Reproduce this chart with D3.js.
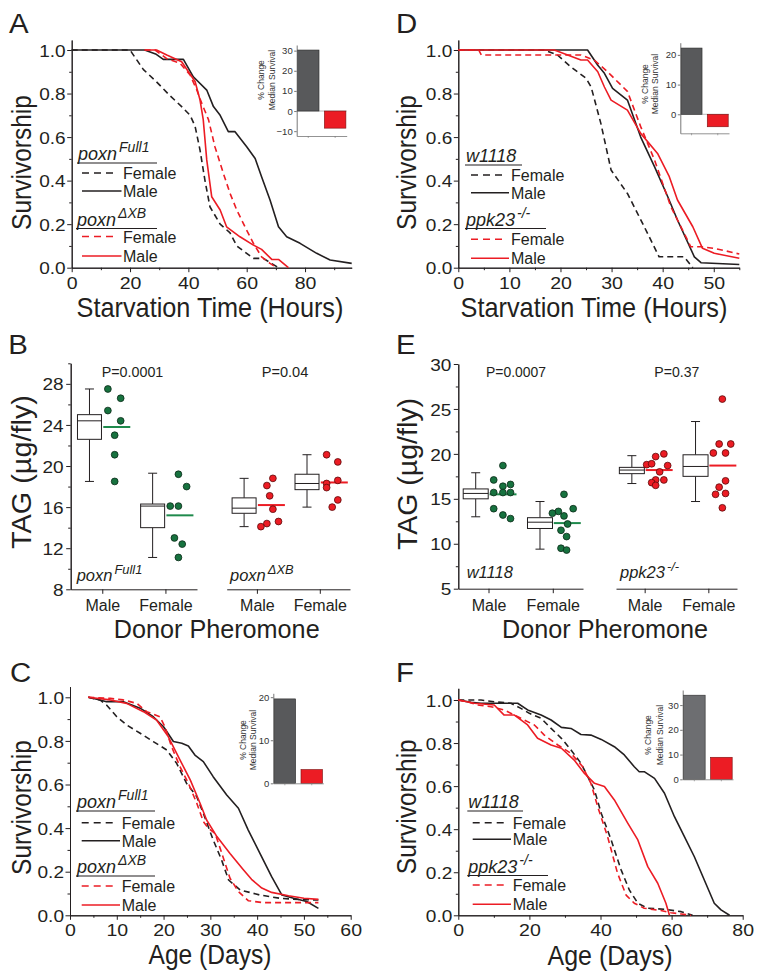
<!DOCTYPE html>
<html><head><meta charset="utf-8">
<script src="https://cdn.jsdelivr.net/npm/d3@7"></script>
<style>body{margin:0;background:#fff}svg{display:block}</style>
</head><body>
<svg id="c" width="762" height="976"></svg>
<script>
// ---------------- DATA ----------------
// Panel A: starvation survival (hours, fraction alive)
const aFull1Female = [[0,1],[20,1],[21,0.98],[24.6,0.91],[29,0.855],[33.7,0.79],[37.7,0.74],[40.6,0.70],[42.3,0.65],[44,0.54],[45.7,0.40],[47.4,0.28],[50.9,0.20],[54.3,0.16],[56.6,0.10],[62.3,0.043],[65.7,0.043],[70.3,0.005],[70.5,0]];
const aFull1Male = [[0,1],[25,1],[29,0.98],[31.4,0.957],[38.3,0.957],[41.7,0.877],[46.3,0.816],[48.6,0.74],[50.9,0.70],[53.7,0.625],[56,0.625],[60,0.556],[62.9,0.502],[65.1,0.418],[68,0.311],[70.9,0.188],[73.7,0.142],[78.3,0.112],[84,0.066],[88.6,0.035],[96,0.02]];
const aXBFemale = [[25,1],[28.6,1],[32.6,0.96],[37.1,0.94],[40.6,0.885],[42.9,0.816],[44.6,0.755],[46.9,0.68],[49.1,0.556],[52,0.433],[54.3,0.341],[56.6,0.265],[59.4,0.188],[62.3,0.112],[65.1,0.05],[68,0.02],[70.3,0]];
const aXBMale = [[25,1],[29.1,1],[32.6,0.977],[37.7,0.946],[42.3,0.855],[44,0.77],[45.1,0.68],[46.3,0.495],[48,0.326],[50.9,0.265],[53.1,0.188],[57.7,0.142],[62.3,0.104],[65.1,0.084],[68.6,0.038],[70.9,0.038],[74.3,0]];
// Panel D
const dW1118Female = [[0,1],[16.8,1],[19.4,0.977],[22,0.923],[25,0.87],[26,0.83],[27.9,0.663],[29.9,0.449],[33.1,0.341],[36.4,0.188],[39.3,0.05],[44.2,0.05],[45.9,0]];
const dW1118Male = [[0,1],[25.3,1],[27.3,0.93],[28.6,0.893],[30.2,0.824],[33.1,0.77],[35.7,0.60],[38.4,0.464],[41,0.326],[42.9,0.219],[46.2,0.05],[47.5,0.023],[55,0.015]];
const dPpkFemale = [[0,1],[4,1],[4.5,0.977],[24,0.977],[26.6,0.954],[29.2,0.9],[33.1,0.81],[35.7,0.648],[38.4,0.495],[41.6,0.28],[43.9,0.173],[45.5,0.096],[47.5,0.096],[50.1,0.089],[55,0.063]];
const dPpkMale = [[0,1],[18.8,1],[21.4,0.977],[24,0.954],[25.3,0.954],[27.3,0.9],[28.6,0.83],[29.9,0.77],[33.1,0.724],[35.7,0.617],[39,0.525],[41.3,0.418],[42.9,0.311],[45.9,0.188],[47.8,0.089],[50.1,0.066],[55,0.043]];
// Panel C: lifespan (days)
const cFull1Female = [[3.9,1],[6.4,0.988],[7.8,0.965],[10,0.911],[12.1,0.873],[15,0.835],[17.8,0.797],[20.7,0.758],[22.8,0.697],[24.9,0.606],[27.1,0.544],[28.5,0.468],[30.6,0.346],[32.4,0.254],[33.9,0.162],[36.4,0.116],[40.6,0.093],[44.9,0.078],[49.2,0.072],[53.1,0.07]];
const cFull1Male = [[3.9,1],[6.4,0.988],[7.8,0.98],[11.4,0.98],[15,0.95],[17.8,0.911],[20,0.865],[22.1,0.797],[23.9,0.789],[25.3,0.777],[26.7,0.735],[28.5,0.705],[30.6,0.636],[33.5,0.552],[36,0.491],[38.1,0.391],[40.6,0.284],[43.1,0.177],[45.3,0.093],[47.8,0.078],[50.6,0.063],[53.1,0.032]];
const cXBFemale = [[3.9,1],[8.6,0.995],[11.4,0.988],[14.3,0.972],[16.4,0.934],[19.2,0.911],[20.3,0.865],[21.7,0.774],[23.5,0.682],[25.3,0.606],[27.1,0.514],[28.5,0.43],[29.6,0.399],[31,0.376],[32.1,0.307],[34.2,0.17],[36,0.109],[38.1,0.067],[41.3,0.058],[53.1,0.058]];
const cXBMale = [[3.9,1],[8.6,0.988],[12.1,0.972],[15.7,0.934],[18.5,0.896],[21,0.82],[23.5,0.713],[25.7,0.621],[27.8,0.514],[29.2,0.437],[31.4,0.361],[34.2,0.284],[37.1,0.208],[38.8,0.165],[41,0.125],[43.1,0.105],[46.7,0.09],[50,0.078],[53.1,0.073]];
// Panel F
const fW1118Female = [[0,1],[6.4,1],[10.1,0.992],[14.8,0.985],[17.6,0.961],[20,0.938],[23.3,0.915],[26.1,0.868],[29,0.822],[31.7,0.768],[34.5,0.706],[36.4,0.644],[38.3,0.582],[40.2,0.474],[43,0.35],[45.8,0.211],[48.1,0.118],[50.5,0.056],[53.3,0.033],[58,0.028],[62.7,0.017],[65.9,0]];
const fW1118Male = [[0,1],[3.6,0.989],[6.4,0.985],[16.7,0.985],[19.5,0.954],[23.3,0.93],[26.1,0.907],[29,0.873],[31.7,0.868],[34.5,0.84],[37.3,0.837],[40.2,0.817],[43.9,0.783],[46.7,0.745],[49.5,0.69],[50.9,0.667],[52.3,0.667],[55.2,0.636],[58,0.567],[60.8,0.458],[63.6,0.365],[66.4,0.272],[69.2,0.164],[72,0.056],[73.9,0.025],[76.3,0]];
const fPpkFemale = [[0,1],[2.6,0.992],[5.4,0.977],[9.2,0.969],[12.9,0.954],[17.6,0.915],[21.4,0.884],[24.2,0.837],[28,0.791],[31.7,0.752],[35,0.69],[37.3,0.613],[39.2,0.505],[42,0.365],[44.8,0.195],[47.2,0.094],[49.5,0.056],[52.3,0.033],[57,0.022],[59.8,0.012],[62.7,0.006],[65.5,0]];
const fPpkMale = [[0,1],[4.5,0.985],[10.1,0.977],[12.9,0.93],[15.8,0.93],[19.5,0.884],[22.3,0.822],[26.1,0.791],[29,0.776],[32.6,0.721],[35.5,0.659],[38.3,0.613],[41.1,0.598],[43.9,0.536],[47.7,0.427],[50.5,0.35],[53.3,0.226],[56.1,0.149],[58.4,0.056],[59.4,0]];

// Insets: % change in median survival [control genotype, mutant]
const insetCats = ["control", "mutant"];
const insetA = [30.3, -8.5];
const insetD = [22.3, -4.2];
const insetC = [19.6, 3.2];
const insetF = [34.0, 8.9];
const insetTicksA = [-10, 0, 10, 20, 30];
const insetTicksD = [0, 10, 20];
const insetTicksC = [0, 10, 20];
const insetTicksF = [0, 10, 20, 30];

// Survival tick labels
const survYTicks = [0, 0.2, 0.4, 0.6, 0.8, 1.0];
const xTicksA = [0, 20, 40, 60, 80];
const xTicksD = [0, 10, 20, 30, 40, 50];
const xTicksC = [0, 10, 20, 30, 40, 50, 60];
const xTicksF = [0, 20, 40, 60, 80];

// TAG (µg/fly) panels B and E: box stats [lo, q1, median, q3, hi], dots [value, column], mean
const tagCats = ["Male", "Female"];
const bTicks = [8, 12, 16, 20, 24, 28];
const eTicks = [5, 10, 15, 20, 25, 30];
const bFull1MaleBox = [18.5, 22.6, 24.4, 25.0, 27.5];
const bFull1MaleDots = [[27.5,0.4],[26.6,3.6],[25.4,0.4],[24.4,3.6],[23.0,2.1],[21.1,2.1],[18.5,2.1]];
const bFull1MaleMean = 23.8;
const bFull1FemaleBox = [11.1, 14.0, 16.1, 16.3, 19.3];
const bFull1FemaleDots = [[19.2,2.25],[18.0,4.3],[16.1,0.2],[16.1,2.25],[13.0,1.25],[12.4,3.2],[11.1,2.25]];
const bFull1FemaleMean = 15.2;
const bXBMaleBox = [14.1, 15.4, 15.9, 16.9, 18.8];
const bXBMaleDots = [[18.8,3],[18.1,1.5],[17.1,2.2],[15.8,3],[14.6,4.4],[14.4,1.5],[14.1,0]];
const bXBMaleMean = 16.2;
const bXBFemaleBox = [16.0, 17.7, 18.3, 19.2, 21.1];
const bXBFemaleDots = [[21.1,0.7],[20.4,3.5],[18.6,3.5],[18.3,0.7],[17.9,0.7],[16.7,3.5],[16.0,2.1]];
const bXBFemaleMean = 18.4;
const eW1118MaleBox = [13.0, 15.0, 15.6, 16.1, 17.9];
const eW1118MaleDots = [[18.7,2.6],[17.1,0.3],[16.6,4.5],[16.4,2.6],[15.7,0.3],[15.7,2.6],[15.7,4.5],[13.9,0.3],[13.2,2.6],[12.8,4.5]];
const eW1118MaleMean = 15.5;
const eW1118FemaleBox = [9.4, 11.7, 12.4, 12.9, 14.7];
const eW1118FemaleDots = [[15.5,1.8],[13.9,4.1],[13.6,0.4],[13.4,-1.1],[13.1,1.8],[12.2,2.7],[11.5,1.05],[10.8,2.45],[9.5,1.05],[9.3,2.45]];
const eW1118FemaleMean = 12.3;
const ePpkMaleBox = [16.7, 17.8, 18.2, 18.5, 19.8];
const ePpkMaleDots = [[18.8,-0.5],[18.9,0.75],[19.7,1.75],[20.0,3.8],[18.7,4.75],[18.0,2.75],[17.1,1.75],[17.1,3.8],[16.8,0.75],[16.5,1.75]];
const ePpkMaleMean = 18.2;
const ePpkFemaleBox = [14.7, 17.5, 18.6, 19.9, 23.6];
const ePpkFemaleDots = [[26.1,2.5],[21.1,1.7],[21.1,4.6],[20.1,0.25],[20.1,3.3],[17.0,3.3],[16.3,1.7],[15.6,3.3],[15.5,0.8],[14.0,2.5]];
const ePpkFemaleMean = 18.7;

// ---------------- DRAWING ----------------
const svg = d3.select('#c');
const FF = "'Liberation Sans', Arial, Helvetica, sans-serif";
const INK = '#231f20', RED = '#ec1c24', GREEN = '#17723f', GREENLINE = '#1f8a4c';

function txt(g, x, y, s, o = {}) {
  const t = g.append('text')
    .attr('font-family', FF).attr('font-size', o.size || 16)
    .attr('text-anchor', o.anchor || 'start').attr('fill', o.fill || INK)
    .attr('font-style', o.italic ? 'italic' : null)
    .text(s);
  let sx = o.sx || 1;
  if (o.w) { sx = o.w / t.node().getComputedTextLength(); }
  t.attr('transform', `translate(${x},${y})` + (o.rot ? ` rotate(${o.rot})` : '') + ` scale(${sx},1)`);
  return t;
}

function styleAxis(g) {
  g.selectAll('path.domain').attr('stroke', INK).attr('stroke-width', 1);
  g.selectAll('.tick line').attr('stroke', INK).attr('stroke-width', 1);
}

function header(g, x, y, main, sup, size) {
  const t = g.append('text').attr('font-family', FF).attr('font-style', 'italic').attr('fill', INK)
    .attr('x', x).attr('y', y);
  t.append('tspan').attr('font-size', size).text(main);
  if (sup) t.append('tspan').attr('font-size', size * 0.78).attr('dy', -size * 0.42).attr('dx', 2).text(sup);
  return t;
}

function survPanel(L, series, legend) {
  const g = svg.append('g');
  const x = d3.scaleLinear().domain([0, L.xmax]).range([L.x0, L.x1]);
  const y = d3.scaleLinear().domain([0, 1]).range([L.yBot, L.yTop]);
  const yAx = y.copy().domain([0, y.invert(L.axisTop)]).range([L.yBot, L.axisTop]);
  const gy0 = g.append('g').attr('transform', `translate(${L.x0},0)`)
    .call(d3.axisLeft(yAx).tickValues([0.1, 0.3, 0.5, 0.7, 0.9]).tickSize(2.5).tickSizeOuter(0).tickFormat(''));
  styleAxis(gy0);
  const gy = g.append('g').attr('transform', `translate(${L.x0},0)`)
    .call(d3.axisLeft(yAx).tickValues(survYTicks).tickSize(4.5).tickSizeOuter(0).tickFormat(d3.format('.1f')));
  styleAxis(gy);
  gy.selectAll('text').attr('x', 0).attr('dy', '0.36em').attr('font-family', FF).attr('font-size', 17).attr('fill', INK)
    .attr('transform', 'translate(-6,0) scale(1.12,1)');
  const gx0 = g.append('g').attr('transform', `translate(0,${L.yBot})`)
    .call(d3.axisBottom(x).tickValues(L.xMinor).tickSize(2.5).tickSizeOuter(0).tickFormat(''));
  styleAxis(gx0);
  const gx = g.append('g').attr('transform', `translate(0,${L.yBot})`)
    .call(d3.axisBottom(x).tickValues(L.xMajor).tickSize(4.5).tickSizeOuter(0).tickFormat(d3.format('d')));
  styleAxis(gx);
  gx.selectAll('text').attr('y', 0).attr('dy', 0).attr('font-family', FF).attr('font-size', 17).attr('fill', INK)
    .attr('transform', 'translate(0,21) scale(1.15,1)');
  const line = d3.line().x(d => x(d[0])).y(d => y(d[1]));
  series.forEach(s => {
    g.append('path').datum(s.data).attr('d', line).attr('fill', 'none')
      .attr('stroke', s.color).attr('stroke-width', 1.6)
      .attr('stroke-dasharray', s.dash ? '6,4' : null).attr('stroke-linejoin', 'round');
  });
  txt(g, L.letter[0], L.letter[1], L.letter[2], { size: 28, sx: 1.05 });
  txt(g, L.ytitle[0], L.ytitle[1], 'Survivorship', { size: 28, anchor: 'middle', rot: -90, w: 135 });
  txt(g, L.xt[0], L.xt[1] + 1.5, L.xt[2], { size: 27, anchor: 'middle', w: L.xt[3] });
  const lg = g.append('g');
  legend.headers.forEach(h => {
    header(lg, h.x, h.y, h.main, h.sup, 18);
    lg.append('line').attr('x1', h.x - 1).attr('x2', h.ux2).attr('y1', h.y + 3).attr('y2', h.y + 3)
      .attr('stroke', INK).attr('stroke-width', 1.2);
  });
  legend.rows.forEach(r => {
    lg.append('line').attr('x1', legend.lx0).attr('x2', r.dash ? legend.lx1 : legend.lx2)
      .attr('y1', r.y).attr('y2', r.y).attr('stroke', r.color).attr('stroke-width', 1.6)
      .attr('stroke-dasharray', r.dash ? '7,5' : null);
    txt(lg, legend.tx, r.y + 6, r.label, { size: 16 });
  });
}

function inset(L, vals, cats, ticks, barColor) {
  const g = svg.append('g');
  const y = d3.scaleLinear().domain(L.ydom).range([L.yb, L.yt]);
  const x = d3.scaleBand().domain(cats).range([L.x0, L.x1]).paddingInner(0.2).paddingOuter(0.03);
  const colors = [barColor, RED];
  if (L.ydom[0] < 0) {
    g.append('line').attr('x1', L.x0).attr('x2', L.x1).attr('y1', y(0)).attr('y2', y(0))
      .attr('stroke', '#9a9a9a').attr('stroke-width', 0.7);
  }
  g.selectAll('rect').data(vals).join('rect')
    .attr('x', (d, i) => x(cats[i])).attr('width', x.bandwidth())
    .attr('y', d => Math.min(y(d), y(0))).attr('height', d => Math.abs(y(d) - y(0)))
    .attr('fill', (d, i) => colors[i]).attr('stroke', (d, i) => i ? '#7a1010' : '#2a2a2a').attr('stroke-width', 0.6);
  const gy = g.append('g').attr('transform', `translate(${L.x0},0)`)
    .call(d3.axisLeft(y).tickValues(ticks).tickSize(2.5).tickSizeOuter(0));
  gy.selectAll('path.domain').attr('stroke', '#555').attr('stroke-width', 0.8);
  gy.selectAll('.tick line').attr('stroke', '#555').attr('stroke-width', 0.8);
  gy.selectAll('text').attr('x', -4).attr('font-family', FF).attr('font-size', 9.5).attr('fill', '#333');
  const gx = g.append('g').attr('transform', `translate(0,${L.yb})`)
    .call(d3.axisBottom(x).tickSize(2).tickSizeOuter(0).tickFormat(''));
  gx.selectAll('path.domain').attr('stroke', '#777').attr('stroke-width', 0.8);
  gx.selectAll('.tick line').attr('stroke', '#777').attr('stroke-width', 0.6);
  txt(g, L.lab[0], L.lab[2], '% Change', { size: 8.5, anchor: 'middle', rot: -90, fill: '#333' });
  txt(g, L.lab[1], L.lab[2], 'Median Survival', { size: 8.5, anchor: 'middle', rot: -90, fill: '#333' });
}

function boxPanel(L, groups) {
  const g = svg.append('g');
  const y = d3.scaleLinear().domain(L.ydom).range([L.yb, L.ytop]);
  const gy0 = g.append('g').attr('transform', `translate(${L.x0},0)`)
    .call(d3.axisLeft(y).tickValues(L.minor).tickSize(2.5).tickSizeOuter(0).tickFormat(''));
  styleAxis(gy0);
  const gy = g.append('g').attr('transform', `translate(${L.x0},0)`)
    .call(d3.axisLeft(y).tickValues(L.ticks).tickSize(4.5).tickSizeOuter(0).tickFormat(d3.format('d')));
  styleAxis(gy);
  gy.selectAll('text').attr('x', 0).attr('dy', '0.36em').attr('font-family', FF).attr('font-size', 17).attr('fill', INK)
    .attr('transform', 'translate(-7,0) scale(1.12,1)');
  const xs = L.segs.map(r => d3.scalePoint().domain(tagCats).range([r[0], r[1]]).padding(r[2]));
  xs.forEach(xsc => {
    const gx = g.append('g').attr('transform', `translate(0,${L.yb})`)
      .call(d3.axisBottom(xsc).tickSize(4.5).tickSizeOuter(0));
    styleAxis(gx);
    gx.selectAll('text').attr('y', 0).attr('dy', 0).attr('font-family', FF).attr('font-size', 16).attr('fill', INK)
      .attr('transform', 'translate(0,22)');
  });
  const bw = L.bw, cap = 9;
  groups.forEach(gr => {
    const base = xs[gr.seg](gr.cat);
    const cx = base - 12.8;
    const [lo, q1, md, q3, hi] = gr.box;
    const bg = g.append('g').attr('stroke', INK).attr('stroke-width', 1).attr('fill', 'none');
    bg.append('line').attr('x1', cx).attr('x2', cx).attr('y1', y(hi)).attr('y2', y(q3));
    bg.append('line').attr('x1', cx).attr('x2', cx).attr('y1', y(q1)).attr('y2', y(lo));
    bg.append('line').attr('x1', cx - cap / 2).attr('x2', cx + cap / 2).attr('y1', y(hi)).attr('y2', y(hi));
    bg.append('line').attr('x1', cx - cap / 2).attr('x2', cx + cap / 2).attr('y1', y(lo)).attr('y2', y(lo));
    bg.append('rect').attr('x', cx - bw / 2).attr('width', bw).attr('y', y(q3)).attr('height', y(q1) - y(q3)).attr('fill', '#fff');
    bg.append('line').attr('x1', cx - bw / 2).attr('x2', cx + bw / 2).attr('y1', y(md)).attr('y2', y(md));
    g.append('line').attr('x1', base + 1).attr('x2', base + 28).attr('y1', y(gr.mean)).attr('y2', y(gr.mean))
      .attr('stroke', gr.line).attr('stroke-width', 2);
    g.append('g').selectAll('circle').data(gr.dots).join('circle')
      .attr('cx', d => base + 4 + d[1] * 4).attr('cy', d => y(d[0])).attr('r', 3.4)
      .attr('fill', gr.fill).attr('stroke', gr.stroke).attr('stroke-width', 0.8);
  });
  txt(g, L.letter[0], L.letter[1], L.letter[2], { size: 28, sx: 1.05 });
  txt(g, L.ytitle[0], L.ytitle[1], 'TAG (\u00b5g/fly)', { size: 28, anchor: 'middle', rot: -90, w: L.ytitle[2] });
  txt(g, L.xt[0], L.xt[1], 'Donor Pheromone', { size: 26, anchor: 'middle', w: 206 });
  L.pvals.forEach(p => txt(g, p[0], p[1], p[2], { size: 14, anchor: 'middle', w: p[3] }));
  L.geno.forEach(h => header(g, h.x, h.y, h.main, h.sup, 16.5));
}

// Panel A
survPanel({ x0: 71.7, x1: 351.7, xmax: 96, yTop: 50, yBot: 267.7, axisTop: 40,
  xMajor: xTicksA, xMinor: [10, 30, 50, 70, 90],
  letter: [9, 32.7, 'A'], ytitle: [31, 162.5], xt: [210, 315, 'Starvation Time (Hours)', 267] },
  [{ data: aFull1Female, color: INK, dash: true }, { data: aFull1Male, color: INK },
   { data: aXBFemale, color: RED, dash: true }, { data: aXBMale, color: RED }],
  { headers: [{ x: 78, y: 160, main: 'poxn', sup: 'Full1', ux2: 157 }, { x: 77, y: 225.5, main: 'poxn', sup: '\u0394XB', ux2: 157 }],
    lx0: 82, lx1: 117, lx2: 121.5, tx: 123,
    rows: [{ y: 173, color: INK, dash: true, label: 'Female' }, { y: 191, color: INK, label: 'Male' },
           { y: 236.5, color: RED, dash: true, label: 'Female' }, { y: 256, color: RED, label: 'Male' }] });
inset({ x0: 296.7, x1: 346.7, yb: 136, yt: 45, ydom: [-12.4, 32.8], lab: [264, 274.5, 80] }, insetA, insetCats, insetTicksA, '#58595b');

// Panel D
survPanel({ x0: 458.3, x1: 739.3, xmax: 55, yTop: 50, yBot: 267.7, axisTop: 40,
  xMajor: xTicksD, xMinor: [5, 15, 25, 35, 45, 55],
  letter: [396, 32.7, 'D'], ytitle: [416, 162.5], xt: [594, 315, 'Starvation Time (Hours)', 267] },
  [{ data: dW1118Female, color: INK, dash: true }, { data: dW1118Male, color: INK },
   { data: dPpkFemale, color: RED, dash: true }, { data: dPpkMale, color: RED }],
  { headers: [{ x: 466, y: 162, main: 'w1118', sup: '', ux2: 522 }, { x: 466, y: 225.5, main: 'ppk23', sup: '-/-', ux2: 546 }],
    lx0: 471, lx1: 502, lx2: 509, tx: 511,
    rows: [{ y: 175, color: INK, dash: true, label: 'Female' }, { y: 192.7, color: INK, label: 'Male' },
           { y: 239.3, color: RED, dash: true, label: 'Female' }, { y: 258.3, color: RED, label: 'Male' }] });
inset({ x0: 680.3, x1: 729, yb: 133.3, yt: 42.7, ydom: [-6.4, 24.1], lab: [648, 658, 84] }, insetD, insetCats, insetTicksD, '#58595b');

// Panel C
survPanel({ x0: 70, x1: 350.7, xmax: 60, yTop: 697.3, yBot: 915.3, axisTop: 686.7,
  xMajor: xTicksC, xMinor: [5, 15, 25, 35, 45, 55],
  letter: [10, 681.7, 'C'], ytitle: [31, 807.5], xt: [210, 962, 'Age (Days)', 123] },
  [{ data: cFull1Female, color: INK, dash: true }, { data: cFull1Male, color: INK },
   { data: cXBFemale, color: RED, dash: true }, { data: cXBMale, color: RED }],
  { headers: [{ x: 77, y: 808, main: 'poxn', sup: 'Full1', ux2: 155 }, { x: 77, y: 873, main: 'poxn', sup: '\u0394XB', ux2: 155 }],
    lx0: 81.7, lx1: 115, lx2: 120, tx: 121.7,
    rows: [{ y: 822.7, color: INK, dash: true, label: 'Female' }, { y: 840.7, color: INK, label: 'Male' },
           { y: 886, color: RED, dash: true, label: 'Female' }, { y: 905, color: RED, label: 'Male' }] });
inset({ x0: 273.3, x1: 323.3, yb: 783.3, yt: 693.3, ydom: [0, 20.9], lab: [245.5, 255.5, 740] }, insetC, insetCats, insetTicksC, '#58595b');

// Panel F
survPanel({ x0: 458.3, x1: 742.7, xmax: 80, yTop: 700, yBot: 915.3, axisTop: 688.3,
  xMajor: xTicksF, xMinor: [10, 30, 50, 70],
  letter: [396, 681.7, 'F'], ytitle: [416, 806.7], xt: [610, 963, 'Age (Days)', 125] },
  [{ data: fW1118Female, color: INK, dash: true }, { data: fW1118Male, color: INK },
   { data: fPpkFemale, color: RED, dash: true }, { data: fPpkMale, color: RED }],
  { headers: [{ x: 468.3, y: 808, main: 'w1118', sup: '', ux2: 523 }, { x: 468.3, y: 872.5, main: 'ppk23', sup: '-/-', ux2: 548 }],
    lx0: 472.7, lx1: 505, lx2: 511, tx: 512.7,
    rows: [{ y: 822.7, color: INK, dash: true, label: 'Female' }, { y: 839.3, color: INK, label: 'Male' },
           { y: 885, color: RED, dash: true, label: 'Female' }, { y: 904.3, color: RED, label: 'Male' }] });
inset({ x0: 682.7, x1: 733, yb: 779.3, yt: 690, ydom: [0, 36.1], lab: [651, 662.5, 735] }, insetF, insetCats, insetTicksF, '#6d6e71');

// Panel B
const greenSty = { fill: GREEN, stroke: '#0b2a18', line: GREENLINE };
const redSty = { fill: RED, stroke: '#5a0a0a', line: RED };
boxPanel({ x0: 70.7, ydom: [8, 30], yb: 589.3, ytop: 363.3, ticks: bTicks, minor: [10, 14, 18, 22, 26, 30],
  segs: [[70.7, 197, 0.5], [226.7, 350, 0.48]], bw: 24,
  letter: [8.3, 354.3, 'B'], ytitle: [31, 472, 154], xt: [216.7, 638],
  pvals: [[132.5, 377.3, 'P=0.0001', 61.7], [285, 377.3, 'P=0.04', 46.7]],
  geno: [{ x: 76.7, y: 581, main: 'poxn', sup: 'Full1' }, { x: 230, y: 581, main: 'poxn', sup: '\u0394XB' }] },
  [Object.assign({ seg: 0, cat: 'Male', box: bFull1MaleBox, dots: bFull1MaleDots, mean: bFull1MaleMean }, greenSty),
   Object.assign({ seg: 0, cat: 'Female', box: bFull1FemaleBox, dots: bFull1FemaleDots, mean: bFull1FemaleMean }, greenSty),
   Object.assign({ seg: 1, cat: 'Male', box: bXBMaleBox, dots: bXBMaleDots, mean: bXBMaleMean }, redSty),
   Object.assign({ seg: 1, cat: 'Female', box: bXBFemaleBox, dots: bXBFemaleDots, mean: bXBFemaleMean }, redSty)]);

// Panel E
boxPanel({ x0: 458.3, ydom: [5, 30], yb: 588.7, ytop: 364, ticks: eTicks, minor: [7.5, 12.5, 17.5, 22.5, 27.5],
  segs: [[458.3, 583, 0.47], [616, 737, 0.45]], bw: 25,
  letter: [396, 354.3, 'E'], ytitle: [417, 474, 152], xt: [605, 638],
  pvals: [[516, 377.3, 'P=0.0007', 60], [676.8, 377.3, 'P=0.37', 45]],
  geno: [{ x: 466.7, y: 578, main: 'w1118', sup: '' }, { x: 620, y: 578, main: 'ppk23', sup: '-/-' }] },
  [Object.assign({ seg: 0, cat: 'Male', box: eW1118MaleBox, dots: eW1118MaleDots, mean: eW1118MaleMean }, greenSty),
   Object.assign({ seg: 0, cat: 'Female', box: eW1118FemaleBox, dots: eW1118FemaleDots, mean: eW1118FemaleMean }, greenSty),
   Object.assign({ seg: 1, cat: 'Male', box: ePpkMaleBox, dots: ePpkMaleDots, mean: ePpkMaleMean }, redSty),
   Object.assign({ seg: 1, cat: 'Female', box: ePpkFemaleBox, dots: ePpkFemaleDots, mean: ePpkFemaleMean }, redSty)]);
</script>
</body></html>
